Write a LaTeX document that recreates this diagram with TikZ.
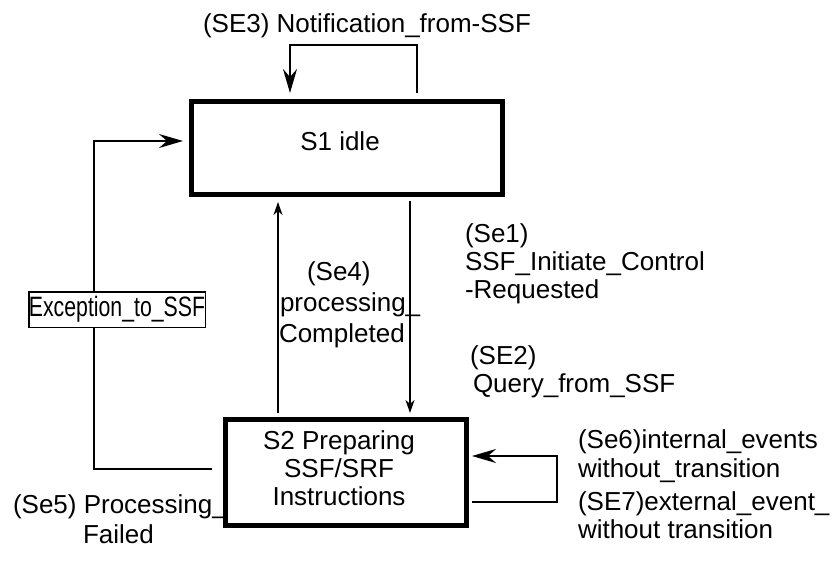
\documentclass[tikz,border=0pt]{standalone}
\usepackage{fontspec}
\setmainfont{Liberation Sans}
\usetikzlibrary{arrows.meta}
\begin{document}
\begin{tikzpicture}[x=1pt,y=-1pt,
  every node/.style={font=\fontsize{26}{28}\selectfont, inner sep=0pt, outer sep=0pt},
  state/.style={draw, line width=5pt},
  conn/.style={line width=2pt},
  bigarr/.style={conn, -{Stealth[length=24pt,width=14pt,inset=8pt]}},
  smallarr/.style={conn, -{Stealth[length=13pt,width=9pt,inset=4pt]}},
  lbl/.style={anchor=base west},
  excbox/.style={draw, line width=1.5pt, fill=white, minimum width=176.5pt, minimum height=35.5pt}
  ]
\useasboundingbox (0,0) rectangle (832,560);

% states
\node[state, minimum width=311pt, minimum height=93pt] (s1) at (347,148) {};
\node[anchor=base] (s1t) at (340,150) {S1 idle};
\node[state, minimum width=241pt, minimum height=106pt] (s2) at (346,472.5) {};
\node[anchor=base] (s2a) at (339,449) {S2 Preparing};
\node[anchor=base] (s2b) at (339,477) {SSF/SRF};
\node[anchor=base] (s2c) at (339,505) {Instructions};

% top self loop
\draw[bigarr] ([xshift=70pt,yshift=8.5pt]s1.north) -- ++(0,-48) -| ([xshift=-57pt,yshift=8.5pt]s1.north);
\node[lbl] (se3) at (203,32) {(SE3) Notification\_from-SSF};

% exception path
\draw[bigarr] ([xshift=-13.5pt,yshift=3.5pt]s2.west) -- ++(-118,0) |- ([xshift=-8.5pt,yshift=7pt]s1.west);
\node[excbox] (exc) at (117,309.5) {\scalebox{0.76}[1]{\fontsize{28}{30}\selectfont Exception\_to\_SSF}};

% vertical transitions
\draw[smallarr] ([xshift=-68pt,yshift=6.5pt]s2.north) -- ([xshift=-69pt,yshift=-7.5pt]s1.south);
\draw[smallarr] ([xshift=63pt,yshift=-6.5pt]s1.south) -- ([xshift=64pt,yshift=6.5pt]s2.north);

% right self loop of S2
\draw[bigarr] ([xshift=5.5pt,yshift=-29.5pt]s2.east) -- ++(85,0) |- ([xshift=5.5pt,yshift=16.5pt]s2.east);

% labels
\node[lbl] (se1a) at (465,242) {(Se1)};
\node[lbl] (se1b) at (465,270) {SSF\_Initiate\_Control};
\node[lbl] (se1c) at (465,298) {-Requested};
\node[lbl] (se2a) at (470,364) {(SE2)};
\node[lbl] (se2b) at (473,392) {Query\_from\_SSF};
\node[lbl] (se4a) at (307,280) {(Se4)};
\node[lbl] (se4b) at (280,311) {processing\_};
\node[lbl] (se4c) at (279,342) {Completed};
\node[lbl] (se5a) at (13,513) {(Se5) Processing\_};
\node[lbl] (se5b) at (83,543) {Failed};
\node[lbl] (se6a) at (578,448) {(Se6)internal\_events};
\node[lbl] (se6b) at (578,477) {without\_transition};
\node[lbl] (se7a) at (578,510) {(SE7)external\_event\_};
\node[lbl] (se7b) at (578,538) {without transition};
\end{tikzpicture}
\end{document}
